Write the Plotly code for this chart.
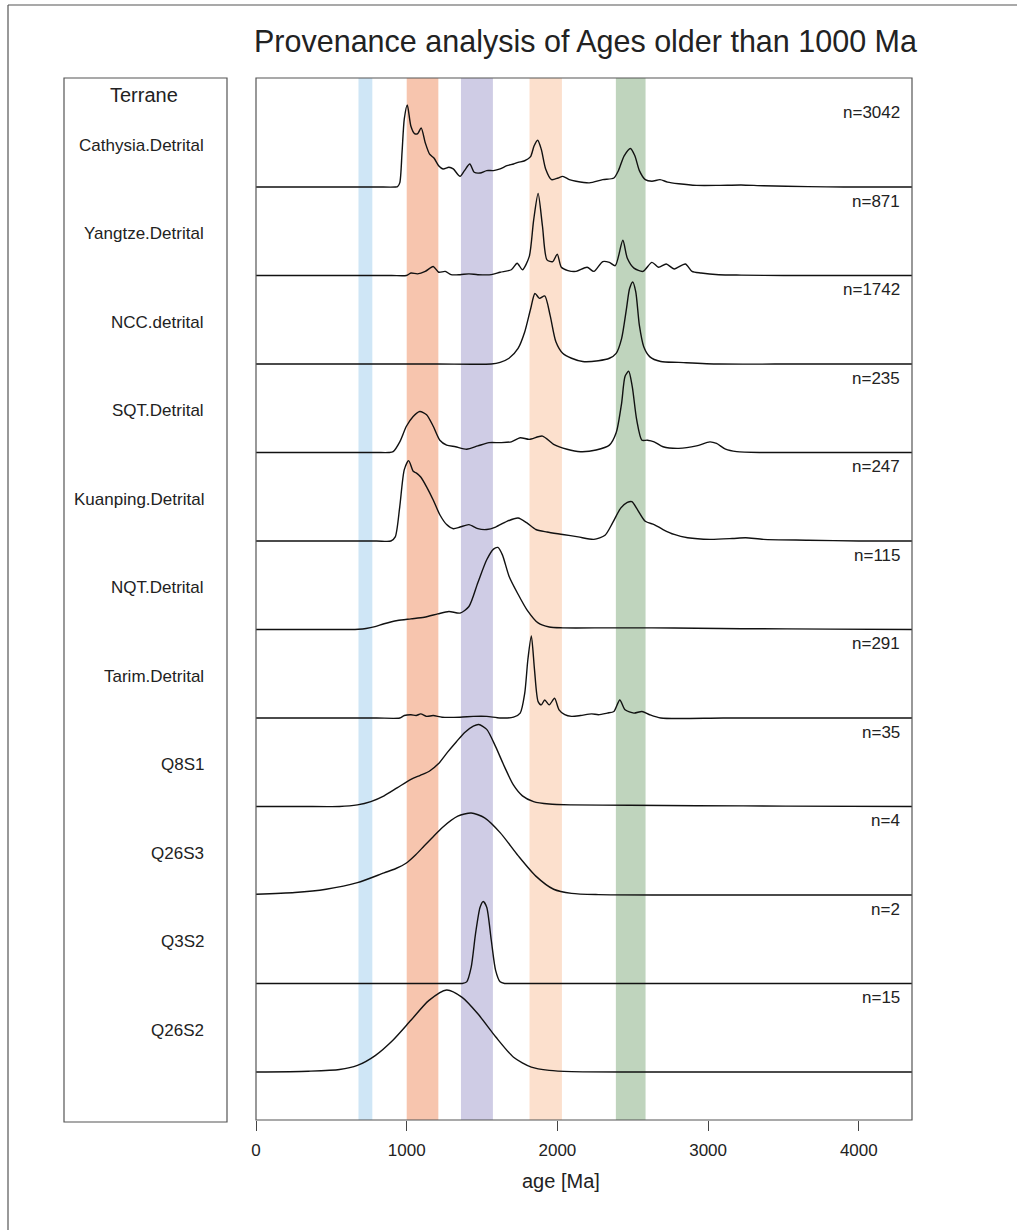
import plotly.graph_objects as go

# ---------------- data ----------------
terranes = ["Cathysia.Detrital", "Yangtze.Detrital", "NCC.detrital", "SQT.Detrital",
            "Kuanping.Detrital", "NQT.Detrital", "Tarim.Detrital", "Q8S1", "Q26S3",
            "Q3S2", "Q26S2"]
n_labels = ["n=3042", "n=871", "n=1742", "n=235", "n=247", "n=115", "n=291",
            "n=35", "n=4", "n=2", "n=15"]

# (age [Ma], relative density) pairs, peak-normalised
cathysia = [(0, 0), (400, 0), (800, 0), (925, 0), (939, 0.005), (954, 0.05), (969, 0.42), (984, 0.83),
            (1004, 1.0), (1028, 0.74),
            (1052, 0.65), (1073, 0.65), (1096, 0.72), (1123, 0.54), (1152, 0.40), (1182, 0.35),
            (1212, 0.26), (1241, 0.22), (1280, 0.24), (1309, 0.22), (1354, 0.13), (1383, 0.20),
            (1419, 0.28), (1448, 0.18), (1487, 0.17), (1531, 0.20), (1576, 0.20), (1620, 0.22),
            (1665, 0.26), (1709, 0.28), (1739, 0.30), (1783, 0.32), (1822, 0.37), (1845, 0.50),
            (1869, 0.57), (1893, 0.46), (1922, 0.22), (1961, 0.09), (2005, 0.11), (2035, 0.13),
            (2079, 0.09), (2124, 0.07), (2212, 0.05), (2301, 0.09), (2375, 0.11), (2405, 0.20),
            (2443, 0.38), (2485, 0.47), (2514, 0.38), (2544, 0.20), (2583, 0.09), (2627, 0.07),
            (2681, 0.09), (2731, 0.06), (2805, 0.04), (2923, 0.02), (3071, 0.02), (3219, 0.025),
            (3367, 0.015), (3664, 0.005), (3900, 0), (4355, 0)]
yangtze = [(0, 0), (500, 0), (900, 0), (998, 0), (1028, 0.03), (1072, 0.02), (1123, 0.05), (1176, 0.11),
           (1212, 0.04),
           (1256, 0.05), (1294, 0.01), (1354, 0.01), (1413, 0.02), (1472, 0.01), (1561, 0.01),
           (1620, 0.04), (1694, 0.07), (1733, 0.15), (1768, 0.07), (1813, 0.23), (1842, 0.67),
           (1872, 1.0), (1901, 0.6), (1931, 0.19), (1969, 0.17), (1999, 0.26), (2026, 0.1),
           (2070, 0.06), (2124, 0.05), (2197, 0.10), (2242, 0.05), (2301, 0.17), (2345, 0.16),
           (2384, 0.12), (2434, 0.43), (2464, 0.21), (2508, 0.09), (2568, 0.05), (2627, 0.16),
           (2671, 0.10), (2722, 0.14), (2775, 0.08), (2849, 0.14), (2893, 0.05), (2953, 0.03),
           (3071, 0.01), (3219, 0.005), (3500, 0), (4000, 0), (4355, 0)]
ncc = [(0, 0), (600, 0), (1200, 0), (1561, 0), (1620, 0.02), (1679, 0.07), (1739, 0.19), (1783, 0.39),
       (1822, 0.67),
       (1851, 0.86), (1881, 0.80), (1916, 0.83), (1952, 0.59), (1990, 0.27), (2035, 0.13),
       (2094, 0.07), (2168, 0.03), (2272, 0.04), (2345, 0.07), (2390, 0.13), (2426, 0.31),
       (2458, 0.67), (2479, 0.92), (2500, 1.0), (2520, 0.88), (2544, 0.47), (2573, 0.21),
       (2612, 0.09), (2686, 0.03), (2805, 0.02), (3071, 0), (3600, 0), (4355, 0)]
sqt = [(0, 0), (400, 0), (800, 0), (880, 0), (910, 0.01), (954, 0.13), (998, 0.32), (1043, 0.44),
       (1087, 0.5),
       (1132, 0.46), (1176, 0.32), (1220, 0.15), (1265, 0.09), (1324, 0.07), (1398, 0.04),
       (1472, 0.08), (1546, 0.12), (1620, 0.12), (1694, 0.13), (1753, 0.18), (1813, 0.16),
       (1901, 0.2), (1975, 0.1), (2064, 0.04), (2153, 0.01), (2257, 0.03), (2345, 0.09),
       (2390, 0.24), (2426, 0.6), (2449, 0.93), (2473, 0.99), (2497, 0.80), (2526, 0.4),
       (2561, 0.15), (2597, 0.15), (2642, 0.13), (2701, 0.07), (2805, 0.05), (2923, 0.08),
       (3012, 0.13), (3056, 0.11), (3116, 0.04), (3190, 0.01), (3367, 0), (3800, 0), (4355, 0)]
kuanping = [(0, 0), (400, 0), (800, 0), (895, 0), (924, 0.05), (954, 0.42), (984, 0.87), (1013, 0.98),
            (1043, 0.85),
            (1063, 0.83), (1093, 0.78), (1132, 0.66), (1176, 0.5), (1220, 0.32), (1265, 0.2),
            (1309, 0.15), (1354, 0.17), (1413, 0.2), (1472, 0.15), (1531, 0.14), (1590, 0.17),
            (1665, 0.24), (1739, 0.28), (1798, 0.22), (1857, 0.14), (1931, 0.11), (2035, 0.08),
            (2138, 0.05), (2242, 0.02), (2316, 0.07), (2366, 0.22), (2420, 0.4), (2464, 0.47),
            (2494, 0.48), (2532, 0.38), (2583, 0.24), (2642, 0.2), (2701, 0.14), (2775, 0.08),
            (2864, 0.04), (3012, 0.02), (3160, 0.03), (3249, 0.04), (3367, 0.02), (3664, 0.01),
            (4000, 0), (4355, 0)]
nqt = [(0, 0), (350, 0), (620, 0), (680, 0.003), (730, 0.012), (790, 0.035), (850, 0.07), (939, 0.11),
       (1028, 0.13), (1117, 0.15),
       (1206, 0.19), (1280, 0.22), (1354, 0.2), (1413, 0.28), (1472, 0.57), (1531, 0.85),
       (1576, 0.98), (1605, 1.0), (1635, 0.91), (1679, 0.65), (1739, 0.43), (1798, 0.24),
       (1872, 0.08), (1946, 0.03), (2035, 0.02), (2331, 0.02), (2627, 0.02), (2923, 0.015),
       (3219, 0.01), (3811, 0.005), (4355, 0)]
tarim = [(0, 0), (400, 0), (800, 0), (954, 0), (984, 0.03), (1028, 0.04), (1063, 0.03), (1093, 0.05),
         (1132, 0.02),
         (1176, 0.03), (1235, 0.01), (1354, 0.01), (1442, 0.02), (1531, 0.02), (1620, 0),
         (1709, 0.01), (1753, 0.06), (1783, 0.3), (1804, 0.71), (1827, 1.0), (1848, 0.59),
         (1872, 0.2), (1893, 0.16), (1916, 0.22), (1946, 0.16), (1981, 0.24), (2011, 0.1),
         (2049, 0.04), (2094, 0.02), (2153, 0.03), (2227, 0.05), (2272, 0.04), (2331, 0.06),
         (2375, 0.08), (2414, 0.22), (2449, 0.1), (2508, 0.06), (2561, 0.08), (2612, 0.04),
         (2686, 0), (3100, 0), (3700, 0), (4355, 0)]
q8s1 = [(0, 0), (300, 0), (554, 0), (673, 0.02), (762, 0.06), (850, 0.13), (939, 0.23), (1028, 0.33),
        (1090, 0.38), (1150, 0.43), (1210, 0.52), (1270, 0.66), (1330, 0.79), (1383, 0.9), (1442, 0.98),
        (1478, 1.0), (1531, 0.94), (1590, 0.73), (1650, 0.48), (1709, 0.26), (1768, 0.13),
        (1842, 0.06), (1946, 0.03), (2094, 0.02), (2478, 0.015), (2923, 0.01), (3515, 0.005),
        (4355, 0)]
q26s3 = [(0, 0.01), (258, 0.03), (465, 0.07), (673, 0.15), (850, 0.27), (925, 0.32), (998, 0.39),
         (1060, 0.49), (1117, 0.6), (1176, 0.71),
         (1235, 0.82), (1339, 0.96), (1428, 1.0), (1517, 0.94), (1620, 0.76), (1739, 0.48),
         (1857, 0.23), (1975, 0.07), (2094, 0.02), (2272, 0.005), (2700, 0), (3500, 0), (4355, 0)]
q3s2 = [(0, 0), (500, 0), (1000, 0), (1340, 0), (1368, 0), (1398, 0.02), (1428, 0.2), (1457, 0.61),
        (1487, 0.93), (1508, 1.0),
        (1531, 0.93), (1561, 0.53), (1590, 0.16), (1620, 0.02), (1650, 0), (1680, 0), (2200, 0),
        (3000, 0), (3700, 0), (4355, 0)]
q26s2 = [(0, 0), (347, 0.01), (554, 0.03), (673, 0.08), (791, 0.2), (910, 0.39), (1028, 0.63),
         (1146, 0.87), (1265, 1.0), (1368, 0.91), (1472, 0.71), (1590, 0.43), (1709, 0.18),
         (1827, 0.06), (1946, 0.02), (2094, 0.005), (2500, 0), (3300, 0), (4355, 0)]

series = [cathysia, yangtze, ncc, sqt, kuanping, nqt, tarim, q8s1, q26s3, q3s2, q26s2]

# highlighted age bands [Ma]
band_ranges = [(680, 772), (1000, 1210), (1360, 1572), (1815, 2030), (2388, 2585)]
band_colors = ["#cfe6f6", "#f7c5ae", "#cfcce5", "#fce0cd", "#bfd4bd"]

x_ticks = [0, 1000, 2000, 3000, 4000]

# ---------------- figure ----------------
FONT = "Liberation Sans, Arial, Helvetica, sans-serif"
W, H = 1017, 1230
L, R, T, B = 256, 105, 78, 110
PW, PH = W - L - R, H - T - B
nrows = len(series)
scale = 0.927  # peak height as a fraction of row height


def px2paper_x(px):
    return (px - L) / PW


def px2paper_y(py):
    return (H - B - py) / PH


fig = go.Figure()

for i, s in enumerate(series):
    base = nrows - 1 - i
    xs = [p[0] for p in s]
    ys = [base + scale * p[1] for p in s]
    fig.add_trace(go.Scatter(x=xs, y=ys, mode="lines",
                             line=dict(color="#111111", width=1.4, shape="spline", smoothing=0.7),
                             hoverinfo="skip", showlegend=False))

shapes = []
for (a, b), c in zip(band_ranges, band_colors):
    shapes.append(dict(type="rect", xref="x", yref="paper", x0=a, x1=b, y0=0, y1=1,
                       fillcolor=c, line=dict(width=0), layer="below"))
# plot box
shapes.append(dict(type="rect", xref="paper", yref="paper", x0=0, x1=1, y0=0, y1=1,
                   line=dict(color="#555555", width=1.2), fillcolor="rgba(0,0,0,0)"))
# left label panel
shapes.append(dict(type="rect", xref="paper", yref="paper",
                   x0=px2paper_x(64), x1=px2paper_x(227), y0=px2paper_y(1122), y1=1,
                   line=dict(color="#555555", width=1.2), fillcolor="rgba(0,0,0,0)"))
# page frame (left & top)
shapes.append(dict(type="line", xref="paper", yref="paper",
                   x0=px2paper_x(8), x1=px2paper_x(8), y0=px2paper_y(5), y1=px2paper_y(1235),
                   line=dict(color="#555555", width=1.2)))
shapes.append(dict(type="line", xref="paper", yref="paper",
                   x0=px2paper_x(8), x1=px2paper_x(1020), y0=px2paper_y(5), y1=px2paper_y(5),
                   line=dict(color="#555555", width=1.2)))

annotations = []
annotations.append(dict(text="Provenance analysis of Ages older than 1000 Ma", xref="paper", yref="paper",
                        x=px2paper_x(585), y=px2paper_y(42), xanchor="center", yanchor="middle",
                        showarrow=False, font=dict(family=FONT, size=30.5, color="#222222")))
annotations.append(dict(text="Terrane", xref="paper", yref="paper",
                        x=px2paper_x(144), y=px2paper_y(95), xanchor="center", yanchor="middle",
                        showarrow=False, font=dict(family=FONT, size=20, color="#222222")))
for i, (name, nl) in enumerate(zip(terranes, n_labels)):
    base = nrows - 1 - i
    annotations.append(dict(text=name, xref="paper", yref="y", x=px2paper_x(206), y=base + 0.47,
                            xanchor="right", yanchor="middle", showarrow=False,
                            font=dict(family=FONT, size=17, color="#222222")))
    annotations.append(dict(text=nl, xref="paper", yref="y", x=px2paper_x(902), y=base + 0.84,
                            xanchor="right", yanchor="middle", showarrow=False,
                            font=dict(family=FONT, size=17, color="#222222")))
annotations.append(dict(text="age [Ma]", xref="paper", yref="paper",
                        x=px2paper_x(561), y=px2paper_y(1181), xanchor="center", yanchor="middle",
                        showarrow=False, font=dict(family=FONT, size=20, color="#222222")))

top_units = (187 - T) / 88.5
bot_units = (H - B - 1072) / 88.5

fig.update_layout(
    width=W, height=H,
    margin=dict(l=L, r=R, t=T, b=B),
    paper_bgcolor="white", plot_bgcolor="white",
    showlegend=False,
    shapes=shapes, annotations=annotations,
    xaxis=dict(range=[0, 4353], tickvals=x_ticks, ticktext=[str(v) for v in x_ticks],
               ticks="outside", ticklen=10, tickwidth=1.3, tickcolor="#444444",
               ticklabelstandoff=5,
               showgrid=False, zeroline=False, showline=False,
               tickfont=dict(family=FONT, size=17, color="#222222")),
    yaxis=dict(range=[-bot_units, nrows - 1 + top_units], showticklabels=False, ticks="",
               showgrid=False, zeroline=False, showline=False),
)

fig.write_html("out.html", config={"displayModeBar": False},
               post_script="document.body.style.margin='0px';document.body.style.padding='0px';")
